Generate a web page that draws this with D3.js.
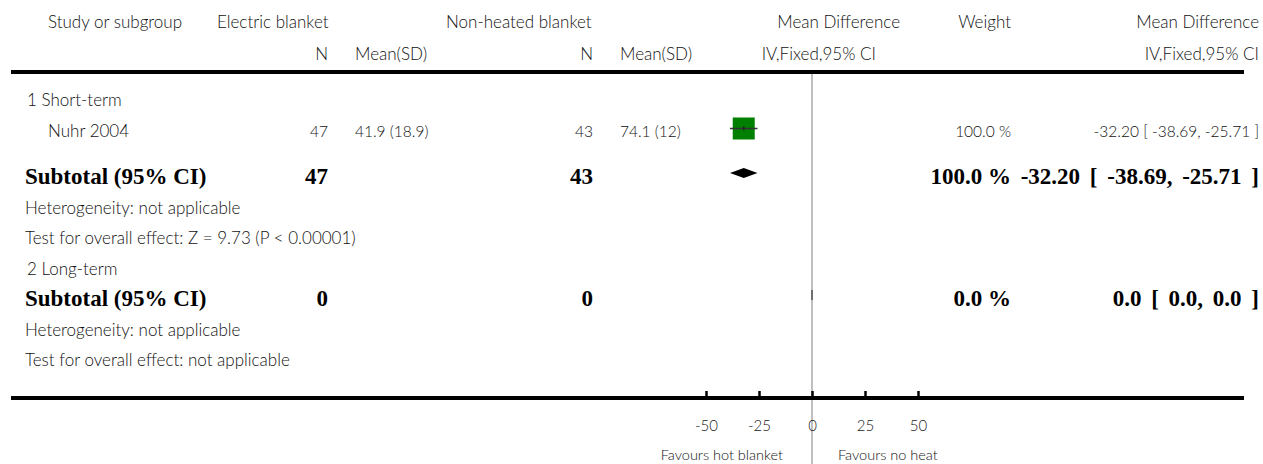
<!DOCTYPE html>
<html>
<head>
<meta charset="utf-8">
<script src="https://cdn.jsdelivr.net/npm/d3@7"></script>
<style>
  body { margin: 0; background: #fff; }
  svg text { font-family: Lato, "Open Sans", sans-serif; font-weight: 300; fill: #111; }
  svg text.bold { font-family: "Liberation Serif", "DejaVu Serif", serif; font-weight: bold; fill: #000; }
</style>
</head>
<body>
<div id="graph-section"></div>
<script>
// data
var subgroupNames = ["1 Short-term", "2 Long-term"];
var studyNames = ["Nuhr 2004"];
var studyGroup = [0];
var expN = [47];
var expMeanSD = ["41.9 (18.9)"];
var ctrlN = [43];
var ctrlMeanSD = ["74.1 (12)"];
var studyMD = [-32.20];
var studyLow = [-38.69];
var studyHigh = [-25.71];
var studyWeight = [100.0];

var subExpN = [47, 0];
var subCtrlN = [43, 0];
var subMD = [-32.20, 0.0];
var subLow = [-38.69, 0.0];
var subHigh = [-25.71, 0.0];
var subWeight = [100.0, 0.0];
var subCIText = ["-32.20 [ -38.69, -25.71 ]", "0.0 [ 0.0, 0.0 ]"];
var heterogeneity = ["Heterogeneity: not applicable", "Heterogeneity: not applicable"];
var overallEffect = ["Test for overall effect: Z = 9.73 (P < 0.00001)", "Test for overall effect: not applicable"];

var axisTicks = [-50, -25, 0, 25, 50];
var favourLeft = "Favours hot blanket";
var favourRight = "Favours no heat";

var fullWidth = 1263;
var fullHeight = 464;

var svg = d3.select('div#graph-section').append('svg')
    .attr('width', fullWidth)
    .attr('height', fullHeight);

// column anchors
var col = {study: 48, group: 27, expN: 328, expMean: 355, ctrlN: 593, ctrlMean: 620,
           plotHead: 900, weight: 1011, ci: 1259};
var labelSize = 17, numSize = 15.5, boldSize = 23;

var x = d3.scaleLinear().domain([-50, 50]).range([706, 918]);

function txt(xp, yp, s, anchor, cls, size) {
    return svg.append('text')
        .attr('x', xp).attr('y', yp)
        .attr('text-anchor', anchor || 'start')
        .classed('bold', cls == 'bold')
        .style('font-size', (size || labelSize) + 'px')
        .text(s);
}
// header
txt(col.study, 28, "Study or subgroup");
txt(217, 28, "Electric blanket");
txt(446, 28, "Non-heated blanket");
txt(col.plotHead, 28, "Mean Difference", 'end');
txt(col.weight, 28, "Weight", 'end');
txt(col.ci, 28, "Mean Difference", 'end');
txt(col.expN, 60, "N", 'end');
txt(col.expMean, 60, "Mean(SD)");
txt(col.ctrlN, 60, "N", 'end');
txt(col.ctrlMean, 60, "Mean(SD)");
txt(876, 60, "IV,Fixed,95% CI", 'end');
txt(col.ci, 60, "IV,Fixed,95% CI", 'end');

var topLine = 72, bottomLine = 398;

// zero line
svg.append('line')
    .attr('x1', x(0)).attr('x2', x(0))
    .attr('y1', topLine).attr('y2', fullHeight)
    .style('stroke', '#aaa').style('stroke-width', 1.5);

svg.append('line')
    .attr('x1', 11).attr('x2', 1244)
    .attr('y1', topLine).attr('y2', topLine)
    .style('stroke', '#000').style('stroke-width', 4);

// build the row list
var rows = [];
subgroupNames.forEach(function(name, g) {
    rows.push({kind: 'group', g: g});
    studyNames.forEach(function(s, i) {
        if (studyGroup[i] == g) rows.push({kind: 'study', i: i});
    });
    rows.push({kind: 'subtotal', g: g});
    rows.push({kind: 'het', g: g});
    rows.push({kind: 'overall', g: g});
});

var yPos = 106;
rows.forEach(function(r, k) {
    if (k > 0) {
        yPos += 30.5;
        if (r.kind == 'subtotal' && rows[k - 1].kind == 'study') yPos += 16;
    }
    r.y = yPos;
});

rows.forEach(function(r) {
    if (r.kind == 'group') {
        txt(col.group, r.y, subgroupNames[r.g]);
    } else if (r.kind == 'study') {
        var i = r.i;
        txt(col.study, r.y, studyNames[i]);
        txt(col.expN, r.y, expN[i], 'end', null, numSize);
        txt(col.expMean, r.y, expMeanSD[i], 'start', null, numSize);
        txt(col.ctrlN, r.y, ctrlN[i], 'end', null, numSize);
        txt(col.ctrlMean, r.y, ctrlMeanSD[i], 'start', null, numSize);
        txt(col.weight, r.y, studyWeight[i].toFixed(1) + ' %', 'end', null, numSize);
        txt(col.ci, r.y, studyMD[i].toFixed(2) + ' [ ' + studyLow[i].toFixed(2) + ', ' + studyHigh[i].toFixed(2) + ' ]', 'end', null, numSize);
        var side = Math.sqrt(studyWeight[i] / 100) * 22;
        var cy = r.y - 8;
        svg.append('rect')
            .attr('x', x(studyMD[i]) - side / 2)
            .attr('y', cy - side / 2)
            .attr('width', side).attr('height', side)
            .style('fill', '#008000');
        svg.append('line')
            .attr('x1', x(studyLow[i])).attr('x2', x(studyHigh[i]))
            .attr('y1', cy).attr('y2', cy)
            .style('stroke', '#333').style('stroke-width', 1.5);
        svg.append('line')
            .attr('x1', x(studyMD[i])).attr('x2', x(studyMD[i]))
            .attr('y1', cy - 2).attr('y2', cy + 2)
            .style('stroke', '#222').style('stroke-width', 1.5);
    } else if (r.kind == 'subtotal') {
        var g = r.g;
        var by = r.y + 1;
        txt(25, by, "Subtotal (95% CI)", 'start', 'bold', boldSize);
        txt(col.expN, by, subExpN[g], 'end', 'bold', boldSize);
        txt(col.ctrlN, by, subCtrlN[g], 'end', 'bold', boldSize);
        txt(col.weight, by, subWeight[g].toFixed(1) + ' %', 'end', 'bold', boldSize);
        txt(col.ci, by, subCIText[g], 'end', 'bold', boldSize)
            .style('word-spacing', '4px');
        var dy = r.y - 10;
        var pts = [[x(subLow[g]), dy], [x(subMD[g]), dy - 5], [x(subHigh[g]), dy], [x(subMD[g]), dy + 5]];
        svg.append('polygon')
            .attr('points', pts.map(function(p) { return p.join(','); }).join(' '))
            .style('fill', '#000')
            .style('stroke', subLow[g] == subHigh[g] ? '#555' : 'none')
            .style('stroke-width', 1.5);
    } else if (r.kind == 'het') {
        txt(25, r.y, heterogeneity[r.g]);
    } else if (r.kind == 'overall') {
        txt(25, r.y, overallEffect[r.g]);
    }
});

// bottom axis
svg.append('line')
    .attr('x1', 11).attr('x2', 1244)
    .attr('y1', bottomLine).attr('y2', bottomLine)
    .style('stroke', '#000').style('stroke-width', 4);

var xAxis = d3.axisBottom(x).tickValues(axisTicks).tickSize(-7).tickPadding(22)
    .tickFormat(function(d) { return String(d); });
var axisG = svg.append('g')
    .attr('transform', 'translate(0,' + bottomLine + ')')
    .call(xAxis);
axisG.select('.domain').remove();
axisG.selectAll('.tick line').style('stroke', '#000').style('stroke-width', 2.5);
axisG.selectAll('.tick text')
    .style('font-family', 'Lato, sans-serif').style('font-weight', 300)
    .style('font-size', '15px').style('fill', '#222');

txt(x(0) - 29, 460, favourLeft, 'end', null, 14.5);
txt(x(0) + 26, 460, favourRight, 'start', null, 14.5);
</script>
</body>
</html>
